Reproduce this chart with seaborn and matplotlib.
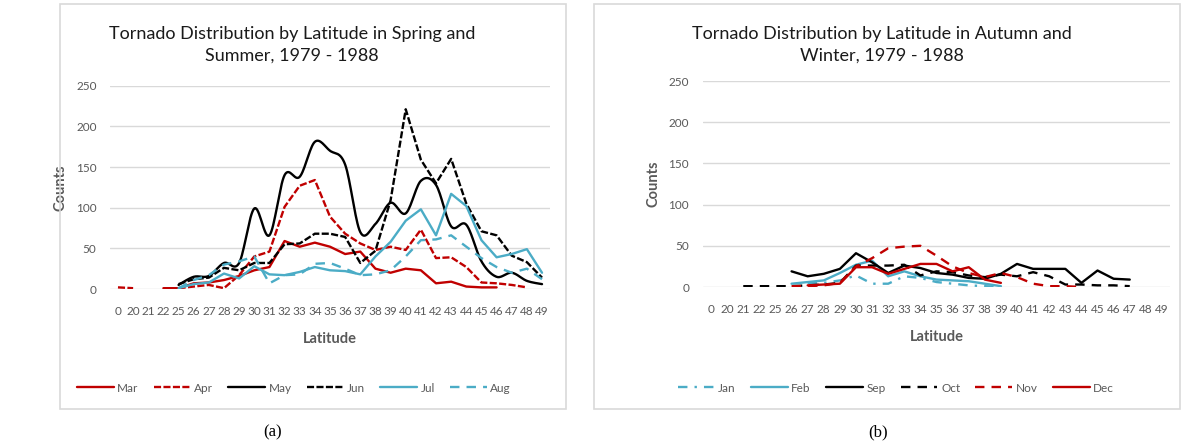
import numpy as np
import pandas as pd
import matplotlib
matplotlib.use("Agg")
import matplotlib.pyplot as plt
import seaborn as sns
from matplotlib.lines import Line2D
from matplotlib.patches import Rectangle

# Latitude categories shown on the x axis
latitudes = ["0", "20", "21", "22", "25", "26", "27", "28", "29", "30", "31", "32",
             "33", "34", "35", "36", "37", "38", "39", "40", "41", "42", "43", "44",
             "45", "46", "47", "48", "49"]

N = None
# Spring / summer tornado counts per latitude
mar = [N, N, N, 1, 1, 7, 8, 11, 16, 23, 27, 59, 52, 57, 52, 43, 46, 25, 20, 25, 23, 7, 9, 3, 2, 2, N, N, N]
apr = [2, 1, N, N, 1, 3, 5, 1, 17, 40, 46, 101, 127, 134, 89, 68, 56, 48, 52, 48, 73, 38, 39, 27, 8, 7, 5, 2, N]
may = [N, N, N, N, 5, 15, 16, 32, 32, 99, 66, 140, 138, 181, 170, 153, 70, 80, 106, 93, 133, 128, 77, 79, 34, 15, 20, 10, 6]
jun = [N, N, N, N, 6, 12, 14, 26, 23, 32, 32, 55, 56, 68, 68, 64, 32, 47, 109, 221, 159, 130, 160, 105, 71, 66, 41, 33, 14]
jul = [N, N, N, N, 1, 6, 8, 19, 13, 28, 18, 17, 21, 27, 23, 22, 18, 40, 58, 84, 98, 66, 117, 102, 60, 39, 43, 49, 20]
aug = [N, N, N, N, 1, 11, 17, 30, 34, 40, 7, 17, 18, 31, 32, 25, 17, 18, 23, 40, 60, 61, 66, 52, 38, 27, 20, 25, 12]

# Autumn / winter tornado counts per latitude
jan = [N, N, N, N, N, N, 5, 5, 8, 14, 4, 4, 13, 11, 6, 4, 2, 1, 0, N, N, N, N, N, N, N, N, N, N]
feb = [N, N, N, N, N, 4, 6, 8, 17, 27, 32, 13, 19, 13, 9, 8, 7, 4, 1, N, N, N, N, N, N, N, N, N, N]
sep = [N, N, N, N, N, 19, 13, 16, 22, 41, 30, 17, 26, 23, 17, 15, 11, 10, 16, 28, 22, 22, 22, 5, 20, 10, 9, N, N]
oct_ = [N, N, 1, 1, 1, 1, 2, 3, 5, 26, 26, 26, 27, 14, 19, 18, 14, 12, 15, 13, 18, 13, 3, 3, 2, 2, 1, N, N]
nov = [N, N, N, N, N, 1, 1, 2, 5, 25, 35, 47, 49, 50, 38, 25, 17, 12, 17, 12, 4, 1, 1, 0, N, N, N, N, N]
dec = [N, N, N, N, N, N, 2, 3, 4, 24, 24, 16, 22, 28, 28, 19, 24, 9, 5, N, N, N, N, N, N, N, N, N, N]

RED = "#c00000"
BLACK = "#000000"
BLUE = "#4bacc6"
GRID = "#d9d9d9"
TXT = "#595959"
LW = 1.7

SOLID = "-"
SHORT_DASH = (0, (3, 1))
DASH = (0, (4, 3))
DASH_DOT = (0, (4, 3, 1, 3))

# (label, values, colour, linestyle, smoothed)
spring = [("Mar", mar, RED, SOLID, False), ("Apr", apr, RED, SHORT_DASH, False),
          ("May", may, BLACK, SOLID, True), ("Jun", jun, BLACK, SHORT_DASH, False),
          ("Jul", jul, BLUE, SOLID, False), ("Aug", aug, BLUE, DASH, False)]
autumn = [("Jan", jan, BLUE, DASH_DOT, False), ("Feb", feb, BLUE, SOLID, False),
          ("Sep", sep, BLACK, SOLID, False), ("Oct", oct_, BLACK, DASH, False),
          ("Nov", nov, RED, DASH, False), ("Dec", dec, RED, SOLID, False)]

sns.set_theme(style="white")
plt.rcParams["font.family"] = ["Lato", "DejaVu Sans"]

W, H = 1186, 445
fig = plt.figure(figsize=(W / 100, H / 100), dpi=100)
fig.patch.set_facecolor("white")


def fx(px):
    return px / W


def fy(py):
    return 1 - py / H


def smooth_path(x, y, steps=16):
    """Cubic Bezier curve through every point (spreadsheet-style smoothed line)."""
    xs, ys = [x[0]], [y[0]]
    n = len(x)
    for i in range(n - 1):
        x0, y0 = (x[i - 1], y[i - 1]) if i > 0 else (x[i], y[i])
        x3, y3 = (x[i + 2], y[i + 2]) if i + 2 < n else (x[i + 1], y[i + 1])
        c1 = (x[i] + (x[i + 1] - x0) / 6, y[i] + (y[i + 1] - y0) / 6)
        c2 = (x[i + 1] - (x3 - x[i]) / 6, y[i + 1] - (y3 - y[i]) / 6)
        t = np.linspace(0, 1, steps + 1)[1:]
        a, b, c, d = (1 - t) ** 3, 3 * (1 - t) ** 2 * t, 3 * (1 - t) * t ** 2, t ** 3
        xs.extend(a * x[i] + b * c1[0] + c * c2[0] + d * x[i + 1])
        ys.extend(a * y[i] + b * c1[1] + c * c2[1] + d * y[i + 1])
    return np.array(xs), np.array(ys)


def draw_series(ax, values, color, ls, smooth):
    df = pd.DataFrame({"pos": np.arange(len(values)),
                       "count": pd.Series(values, dtype=float)})
    df["run"] = df["count"].isna().cumsum()
    df = df.dropna()
    if smooth:
        parts = []
        for run, g in df.groupby("run"):
            sx, sy = smooth_path(g["pos"].to_numpy(float), g["count"].to_numpy(float))
            parts.append(pd.DataFrame({"pos": sx, "count": sy, "run": run}))
        df = pd.concat(parts, ignore_index=True)
    sns.lineplot(data=df, x="pos", y="count", units="run", estimator=None, sort=False,
                 color=color, linewidth=LW, linestyle=ls, ax=ax, legend=False)


def panel(left, right, top, bottom, series, title, title_x, legend_x):
    ax = fig.add_axes([fx(left), fy(bottom), fx(right - left), fy(top) - fy(bottom)])
    for name, vals, color, ls, smooth in series:
        draw_series(ax, vals, color, ls, smooth)
    ax.set_xlim(-0.5, len(latitudes) - 0.5)
    ax.set_ylim(0, 250)
    ax.set_yticks(range(0, 251, 50))
    ax.set_xticks(range(len(latitudes)))
    ax.set_xticklabels(latitudes)
    for s in ax.spines.values():
        s.set_visible(False)
    ax.yaxis.grid(True, color=GRID, linewidth=1)
    ax.xaxis.grid(False)
    ax.set_axisbelow(True)
    ax.tick_params(axis="both", length=0, labelsize=8.5, labelcolor=TXT)
    ax.tick_params(axis="y", pad=10)
    ax.tick_params(axis="x", pad=12)
    ax.set_xlabel("Latitude", fontsize=10.5, fontweight="bold", color=TXT, labelpad=11)
    ax.set_ylabel("Counts", fontsize=10.5, fontweight="bold", color=TXT, labelpad=6)
    fig.text(fx(title_x), fy(45), title, ha="center", va="center",
             fontsize=13, color="#1a1a1a", linespacing=1.4)
    handles = [Line2D([0], [0], color=c, lw=LW, linestyle=ls) for _, _, c, ls, _ in series]
    labels = [n for n, _, _, _, _ in series]
    fig.legend(handles, labels, loc="center", bbox_to_anchor=(fx(legend_x), fy(388)),
               ncol=6, frameon=False, fontsize=8.5, labelcolor=TXT,
               handlelength=3.1, handletextpad=0.3, columnspacing=1.3)
    return ax


panel(110.4, 549.6, 85.7, 289, spring,
      "Tornado Distribution by Latitude in Spring and\nSummer, 1979 - 1988", 292, 294)
panel(703, 1170, 81, 287, autumn,
      "Tornado Distribution by Latitude in Autumn and\nWinter, 1979 - 1988", 882, 896)

# Frames around the two panels
for x0, x1 in [(60, 566), (594, 1180)]:
    fig.add_artist(Rectangle((fx(x0), fy(409)), fx(x1 - x0), fy(4) - fy(409),
                             transform=fig.transFigure, fill=False,
                             edgecolor=GRID, linewidth=1.2))

fig.text(fx(273), fy(432), "(a)", ha="center", va="center", fontsize=12,
         family=["Liberation Serif", "DejaVu Serif"], color="#000000")
fig.text(fx(878), fy(432), "(b)", ha="center", va="center", fontsize=12,
         family=["Liberation Serif", "DejaVu Serif"], color="#000000")

fig.savefig("out.png", dpi=100, facecolor="white")
